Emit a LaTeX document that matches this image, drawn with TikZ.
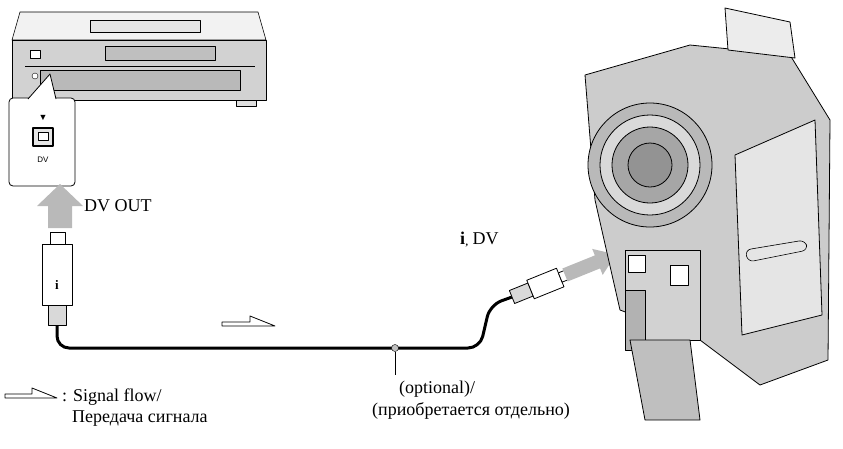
\documentclass[tikz,border=0pt]{standalone}
\usepackage{fontspec}
\setmainfont{Liberation Serif}
\newfontfamily\sansf{Liberation Sans}
\begin{document}
\begin{tikzpicture}[x=1pt,y=-1pt,line join=round,
  dev/.style={draw=black,line width=0.8pt,fill=gray!25},
  devl/.style={draw=black,line width=0.6pt,fill=gray!10},
  lbl/.style={inner sep=0pt,anchor=west,font=\fontsize{18}{20}\selectfont},
  hollow/.style={draw=black,line width=0.8pt,fill=white},
  cable/.style={line width=3pt,draw=black}]
\useasboundingbox (0,0) rectangle (843,448);
% VCR
\draw[devl] (20,12) -- (258,12) -- (266,40) -- (12,40) -- cycle;
\draw[dev,fill=gray!35] (12,40) rectangle (266,100);
\draw[devl,fill=gray!20] (90,20) rectangle (200,32);
\draw[dev,fill=gray!50] (105,46) rectangle (215,60);
\draw[line width=0.6pt] (25,66) -- (255,66);
\draw[dev,fill=gray!55] (40,70) rectangle (240,90);
\draw[line width=0.6pt,fill=white] (30,50) rectangle (40,58);
\draw[fill=white] (35,76) circle (3pt);
\draw[dev] (22,100) rectangle (42,106) (236,100) rectangle (256,106);
% callout
\node[draw,line width=0.8pt,rounded corners=4pt,fill=white,minimum width=66pt,minimum height=88pt] (call) at (42,142) {};
\draw[line width=0.8pt,fill=white] (28,99) -- (50,74) -- (56,99);
\node[font=\sansf\fontsize{9}{9}\selectfont] (tri) at (43,118) {▼};
\draw[line width=1.2pt,fill=gray!20] (33,128) rectangle (53,146);
\draw[line width=0.6pt,fill=white] (38,132) rectangle (48,140);
\node[font=\sansf\fontsize{8}{8}\selectfont] (dvl) at (43,160) {DV};
% big arrow up
\fill[gray!55] (48,228) -- (48,206) -- (37,206) -- (60,184) -- (83,206) -- (72,206) -- (72,228) -- cycle;
\node[lbl] (dvout) at (84,206) {DV OUT};
% left plug
\draw[line width=0.8pt,fill=white] (50,232) rectangle (65,244);
\draw[line width=0.8pt,fill=white] (42,244) rectangle (72,305);
\node[font=\bfseries\fontsize{13}{13}\selectfont] (ii) at (57,285) {i};
\draw[line width=0.8pt,fill=gray!30] (48,305) rectangle (66,325);
% cable
\coordinate (c1) at (57,325);
\coordinate (c2) at (395,348);
\draw[cable,rounded corners=12pt] (c1) -- (57,348) -- (c2) -- (480,348) -- (490,305) -- (512,297);
% right plug (one rotated group)
\begin{scope}[shift={(512,297)},rotate=22]
\draw[line width=0.8pt,fill=gray!30] (0,-7) rectangle (20,7);
\draw[line width=0.8pt,fill=white] (20,-10) rectangle (52,10);
\draw[line width=0.8pt,fill=white] (52,-5) rectangle (60,5);
\end{scope}
% big arrow to camera
\begin{scope}[shift={(565,275)},rotate=22]
\fill[gray!55] (0,-7) -- (35,-7) -- (35,-14) -- (55,0) -- (35,14) -- (35,7) -- (0,7) -- cycle;
\end{scope}
\node[lbl] (dvr) at (460,240) {\textbf{i}\kern0.5pt\raisebox{-1pt}{\fontsize{10}{10}\selectfont\textbf{,}} DV};
% camera
\draw[dev,fill=gray!40] (585,75) -- (690,45) -- (790,55) -- (830,120) -- (828,360) -- (760,385) -- (700,340) -- (620,310) -- (595,200) -- cycle;
\draw[dev,fill=gray!15] (725,8) -- (790,22) -- (795,58) -- (728,50) -- cycle;
\draw[dev,fill=gray!55] (650,165) circle (62pt);
\draw[dev,fill=gray!30] (650,165) circle (50pt);
\draw[dev,fill=gray!70] (650,165) circle (38pt);
\draw[dev,fill=gray!85] (650,165) circle (22pt);
\draw[dev,fill=gray!20] (735,155) -- (815,120) -- (822,315) -- (742,335) -- cycle;
\draw[line width=0.6pt,rounded corners=6pt] (745,250) -- (805,240) -- (808,250) -- (748,262) -- cycle;
\draw[dev,fill=gray!35] (625,250) rectangle (700,340);
\draw[dev,fill=gray!60] (625,290) rectangle (645,350);
\draw[line width=0.8pt,fill=white] (628,255) rectangle (645,272);
\draw[line width=0.8pt,fill=white] (670,265) rectangle (688,285);
\draw[dev,fill=gray!50] (630,340) -- (690,340) -- (700,420) -- (645,420) -- cycle;
% flow arrow
\draw[hollow] (222,322) -- (250,322) -- (250,316) -- (275,326) -- (222,326) -- cycle;
% cable marker
\node[draw,circle,fill=gray!50,inner sep=2.5pt] (mk) at (395,348) {};
\draw[line width=0.8pt] (mk) -- (395,375);
\node[lbl] (opt) at (399,389) {(optional)/};
\node[lbl] (opt2) at (372,411) {(приобретается отдельно)};
% legend
\draw[hollow] (5,394) -- (32,394) -- (32,388) -- (57,398) -- (5,398) -- cycle;
\node[lbl] (sig) at (62,397) {: Signal flow/};
\node[lbl] (sig2) at (72,419) {Передача сигнала};
\end{tikzpicture}
\end{document}
